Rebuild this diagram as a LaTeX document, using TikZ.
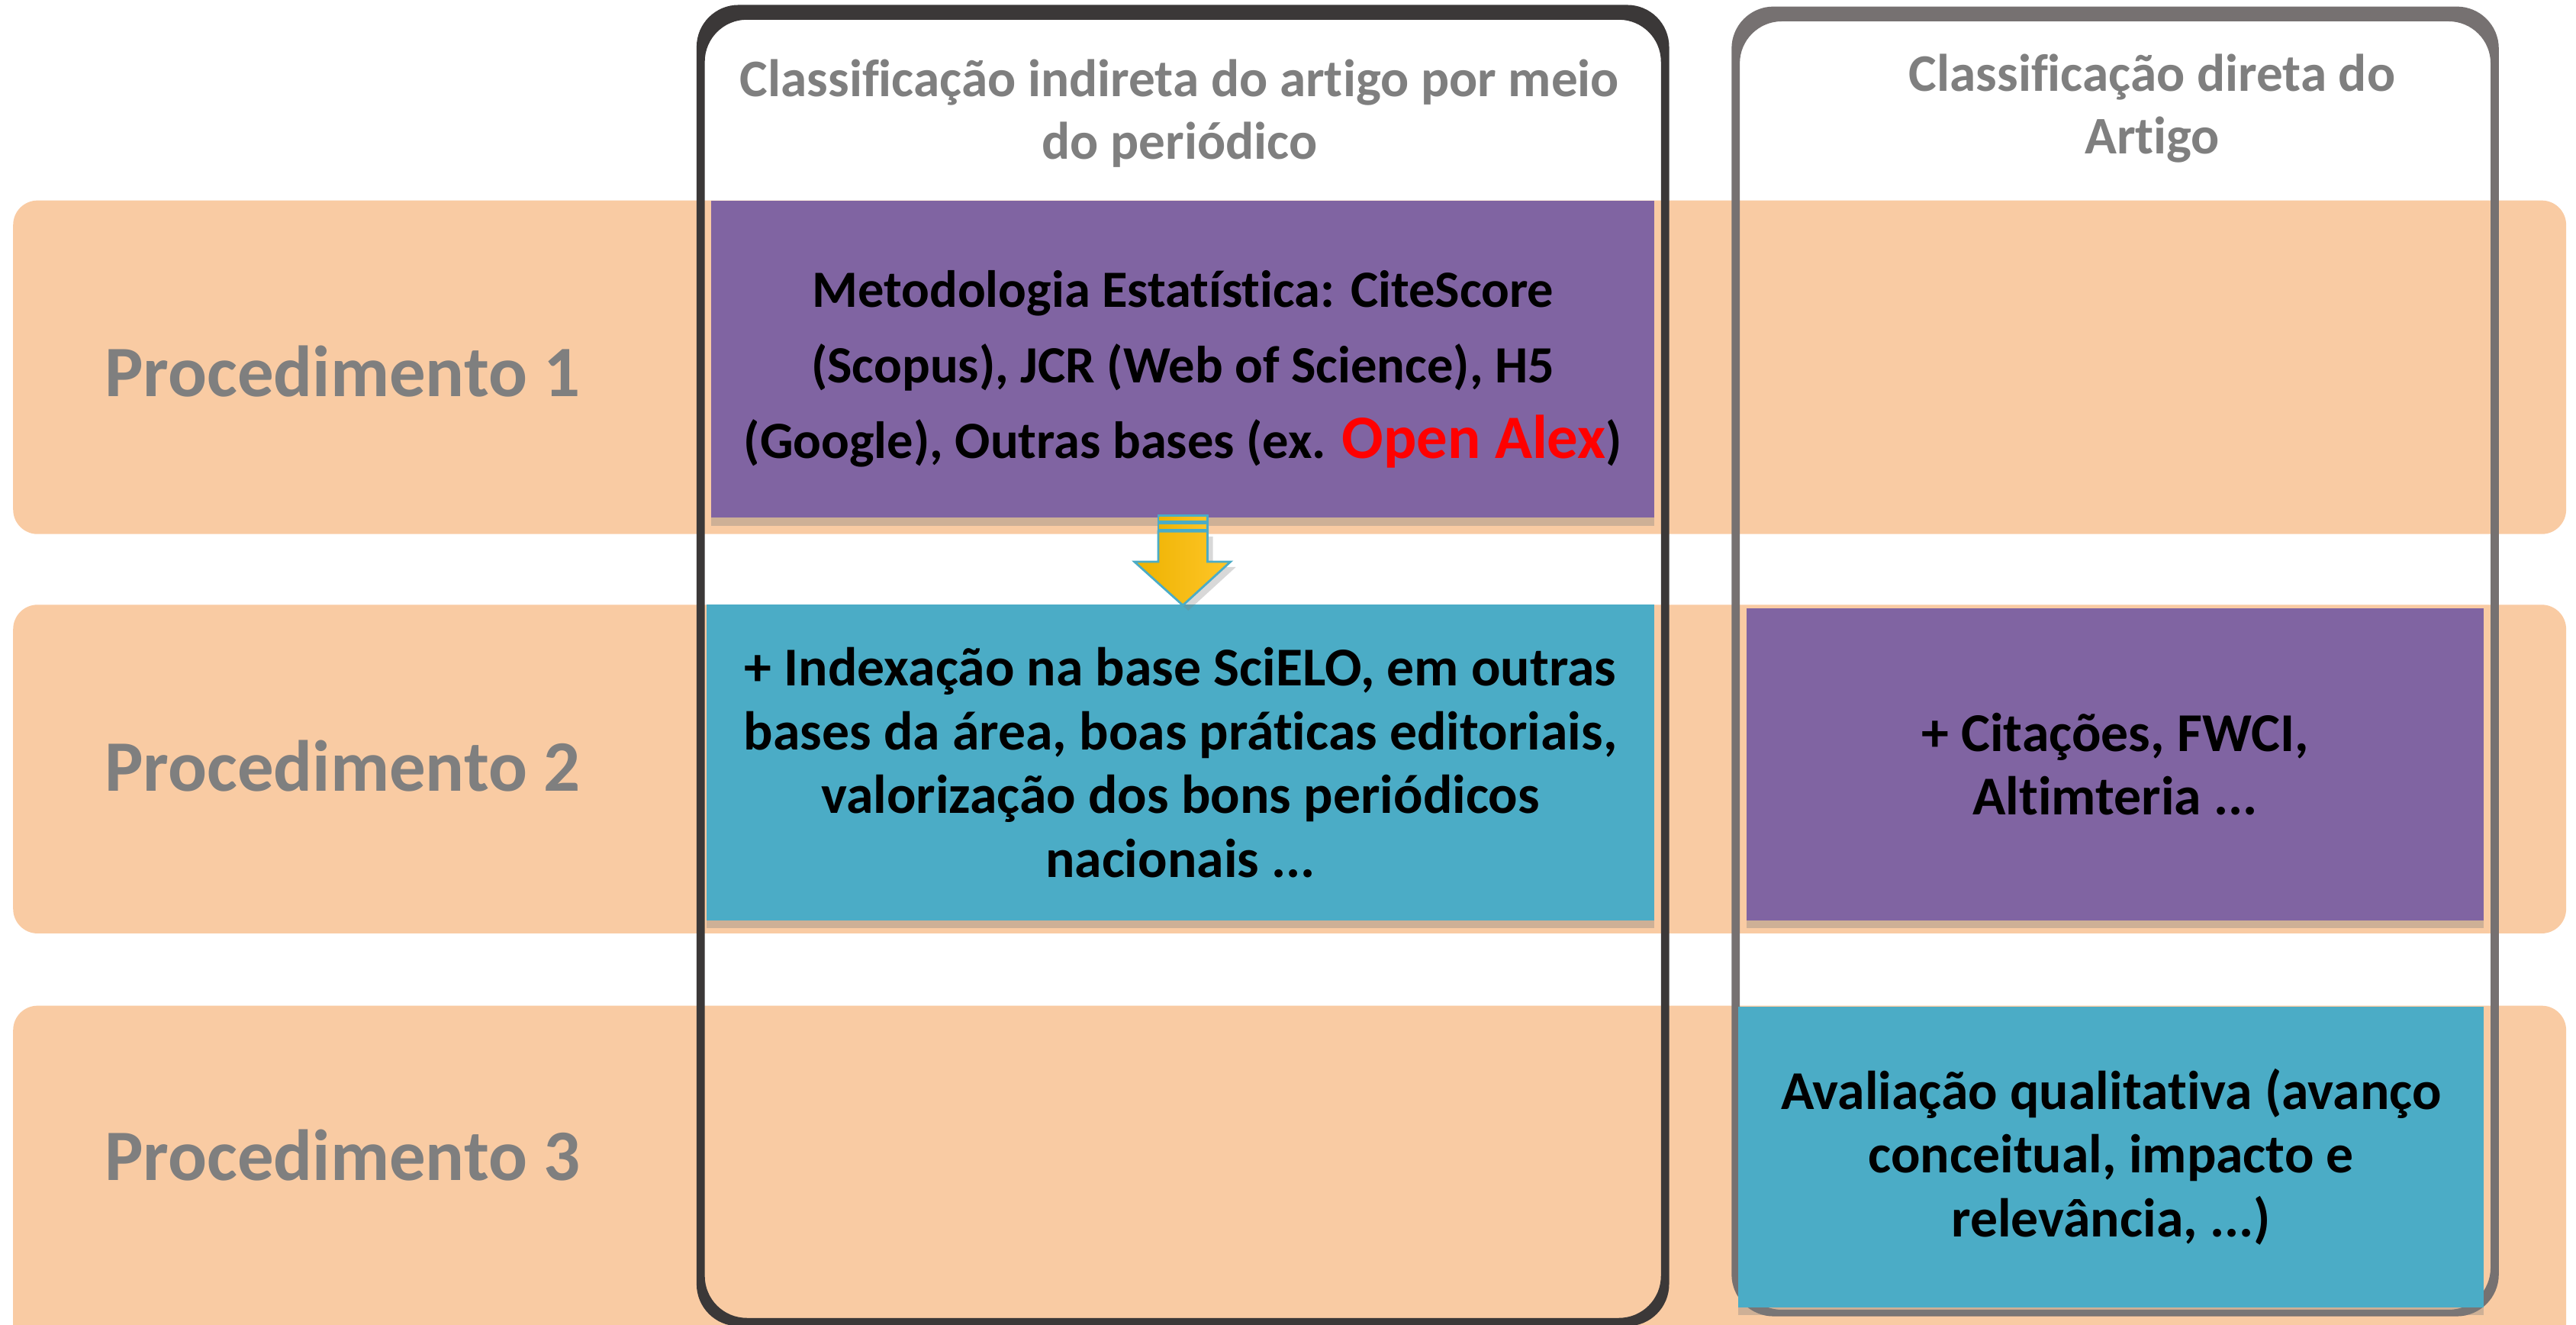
\documentclass[tikz,border=0pt]{standalone}
\usepackage{fontspec}
\setmainfont{Carlito}[Ligatures={NoCommon,NoContextual}]
\usetikzlibrary{shadows}

\definecolor{pessego}{HTML}{F9CBA3}
\definecolor{roxo}{HTML}{8064A2}
\definecolor{azul}{HTML}{4BACC6}
\definecolor{molduraA}{HTML}{3B3838}
\definecolor{molduraB}{HTML}{767171}
\definecolor{cinza}{HTML}{7F7F7F}
\definecolor{ouro}{HTML}{FFC629}
\definecolor{ouroesc}{HTML}{EDB200}

\tikzset{
  faixa/.style={fill=pessego,rounded corners=0.32cm},
  caixa/.style={inner sep=0pt,align=center,text=black,
    drop shadow={shadow xshift=0pt,shadow yshift=-3pt,opacity=0.35}},
  texto/.style={align=center,text=black,font=\bfseries\fontsize{20.4}{23.8}\selectfont},
  rotulo/.style={text=cinza,font=\bfseries\fontsize{27}{32}\selectfont,anchor=west},
  titulo/.style={text=cinza,align=center,font=\bfseries\fontsize{19.7}{23.3}\selectfont},
  seta/.style={draw=azul,line width=0.8pt,left color=ouroesc,right color=ouro}
}

\begin{document}
\begin{tikzpicture}[x=0.02153cm,y=-0.02153cm]

  \clip (0,0) rectangle (1568,806);
  \fill[white] (0,0) rectangle (1568,806);

  % faixas dos procedimentos
  \fill[faixa] (8,122) rectangle (1562,325);
  \fill[faixa] (8,368) rectangle (1562,568);
  \fill[faixa] (8,612) rectangle (1562,840);

  % molduras das colunas
  \fill[molduraA,even odd rule,rounded corners=0.55cm]
    (424,3) rectangle (1016,807) (429,12) rectangle (1011,802);
  \fill[molduraB,even odd rule,rounded corners=0.55cm]
    (1054,4) rectangle (1521,801) (1059,13) rectangle (1516,797);

  \begin{scope}[every node/.style=titulo]
    \node (col1) at (718,69) {Classificação indireta do artigo por meio\\do periódico};
    \node (col2) at (1310,66) {Classificação direta do\\Artigo};
  \end{scope}

  \begin{scope}[every node/.style=rotulo]
    \node (p1) at (58,226) {Procedimento 1};
    \node (p2) at (58,466) {Procedimento 2};
    \node (p3) at (58,703) {Procedimento 3};
  \end{scope}

  \node[caixa,fill=roxo,minimum width=12.36cm,minimum height=4.155cm] (met) at (720,218.5) {};
  \node[texto,font=\bfseries\fontsize{19.5}{28.2}\selectfont] (mettxt) at ([yshift=-0.13cm]met.center)
    {Metodologia Estatística: CiteScore\\(Scopus), JCR (Web of Science), H5\\(Google), Outras bases (ex. {\color{red}\fontsize{23}{28.2}\selectfont Open Alex})};
  \node[caixa,texto,fill=azul,minimum width=12.42cm,minimum height=4.134cm] (idx) at (718.5,464)
    {+ Indexação na base SciELO, em outras\\bases da área, boas práticas editoriais,\\valorização dos bons periódicos\\nacionais ...};
  \node[caixa,texto,fill=roxo,minimum width=9.667cm,minimum height=4.09cm] (cit) at (1287.5,465)
    {+ Citações, FWCI,\\Altimteria ...};
  \node[caixa,texto,fill=azul,minimum width=9.775cm,minimum height=3.94cm] (aval) at (1285,704)
    {Avaliação qualitativa (avanço\\conceitual, impacto e\\relevância, ...)};

  % seta entre as caixas
  \coordinate (s) at (met.south);
  \begin{scope}[shift={(s)}]
    \draw[seta] (-15,-1.5) rectangle (15,2);
    \draw[seta] (-15,3) rectangle (15,7);
    \draw[seta,drop shadow={shadow xshift=2pt,shadow yshift=-2pt,opacity=0.3}]
      (-15,8) -- (15,8) -- (15,26.5) -- (29,26.5) -- (0,53)
      -- (-29.5,26.5) -- (-15,26.5) -- cycle;
  \end{scope}

\end{tikzpicture}
\end{document}
